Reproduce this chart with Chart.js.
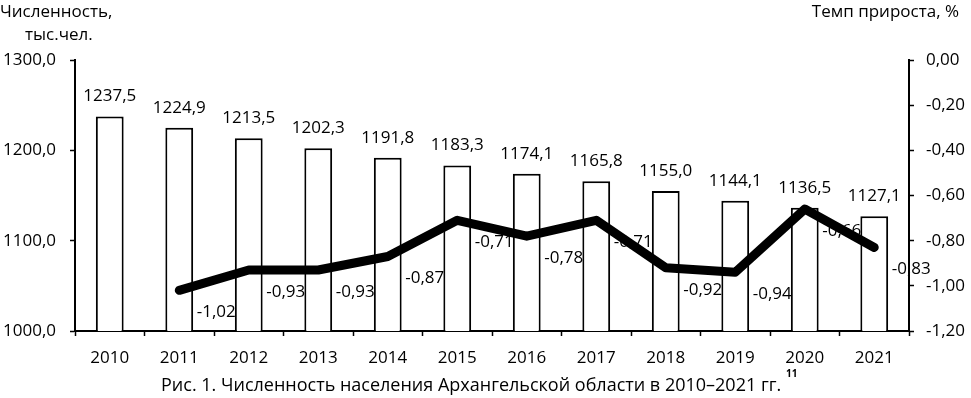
<!DOCTYPE html>
<html>
<head>
<meta charset="utf-8">
<script src="https://cdn.jsdelivr.net/npm/chart.js@4/dist/chart.umd.min.js"></script>
<style>
  html, body { margin: 0; padding: 0; background: #fff; }
</style>
</head>
<body>
<canvas id="chart" width="971" height="398"></canvas>
<script>
const years = ['2010', '2011', '2012', '2013', '2014', '2015', '2016', '2017', '2018', '2019', '2020', '2021'];
const population = [1237.5, 1224.9, 1213.5, 1202.3, 1191.8, 1183.3, 1174.1, 1165.8, 1155.0, 1144.1, 1136.5, 1127.1];
const growthRate = [null, -1.02, -0.93, -0.93, -0.87, -0.71, -0.78, -0.71, -0.92, -0.94, -0.66, -0.83];
const leftAxisTitle = ['Численность,', 'тыс.чел.'];
const rightAxisTitle = 'Темп прироста, %';
const caption = 'Рис. 1. Численность населения Архангельской области в 2010–2021 гг.';
const footnote = '11';

const FONT = '"Open Sans", sans-serif';
const comma = (v, d) => v.toFixed(d).replace('.', ',');

// titles, caption and value labels
const labelsPlugin = {
  id: 'labels',
  afterDraw(chart) {
    const ctx = chart.ctx;
    ctx.save();
    ctx.fillStyle = '#000';
    ctx.font = '17px ' + FONT;
    ctx.textBaseline = 'middle';
    ctx.textAlign = 'left';
    ctx.fillText(leftAxisTitle[0], 0, 12);
    ctx.fillText(leftAxisTitle[1], 25, 35);
    ctx.textAlign = 'right';
    ctx.fillText(rightAxisTitle, 959, 12);

    ctx.textAlign = 'left';
    ctx.font = '18px ' + FONT;
    ctx.fillText(caption, 161, 386);
    ctx.font = 'bold 10px ' + FONT;
    ctx.fillText(footnote, 786, 374);

    ctx.textAlign = 'center';
    ctx.font = '17px ' + FONT;
    const bars = chart.getDatasetMeta(1).data;
    bars.forEach((bar, i) => {
      ctx.textBaseline = 'alphabetic';
      ctx.fillText(comma(population[i], 1), bar.x, bar.y - 15);
    });
    const pts = chart.getDatasetMeta(0).data;
    pts.forEach((pt, i) => {
      if (growthRate[i] === null) return;
      ctx.textBaseline = 'middle';
      ctx.fillText(comma(growthRate[i], 2), pt.x + 37, pt.y + 22);
    });
    ctx.restore();
  }
};

new Chart(document.getElementById('chart'), {
  type: 'bar',
  data: {
    labels: years,
    datasets: [
      {
        type: 'line',
        data: growthRate,
        yAxisID: 'y1',
        borderColor: '#000',
        borderWidth: 9,
        borderCapStyle: 'round',
        borderJoinStyle: 'round',
        pointRadius: 0,
        tension: 0,
        order: 0
      },
      {
        type: 'bar',
        data: population,
        yAxisID: 'y',
        backgroundColor: '#fff',
        borderColor: '#000',
        borderWidth: 2,
        barPercentage: 0.4,
        categoryPercentage: 1,
        order: 1
      }
    ]
  },
  options: {
    responsive: false,
    animation: false,
    layout: { padding: { top: 60, left: 0, right: 0, bottom: 0 } },
    plugins: { legend: { display: false }, tooltip: { enabled: false } },
    scales: {
      x: {
        afterFit(scale) { scale.height = 67; },
        grid: { drawOnChartArea: false, offset: true, tickLength: 5, color: '#000', tickWidth: 1.5 },
        border: { color: '#000', width: 2 },
        ticks: { color: '#000', font: { family: FONT, size: 17 }, padding: 12 }
      },
      y: {
        position: 'left',
        min: 1000,
        max: 1300,
        afterFit(scale) { scale.width = 75; },
        grid: { drawOnChartArea: false, tickLength: 5, color: '#000', tickWidth: 1.5 },
        border: { color: '#000', width: 2 },
        ticks: { stepSize: 100, color: '#000', font: { family: FONT, size: 17 }, padding: 14, callback: v => comma(v, 1) }
      },
      y1: {
        position: 'right',
        min: -1.2,
        max: 0,
        afterFit(scale) { scale.width = 62; },
        grid: { drawOnChartArea: false, tickLength: 5, color: '#000', tickWidth: 1.5 },
        border: { color: '#000', width: 2 },
        ticks: { stepSize: 0.2, color: '#000', font: { family: FONT, size: 17 }, padding: 12, callback: v => comma(v, 2) }
      }
    }
  },
  plugins: [labelsPlugin]
});
</script>
</body>
</html>
